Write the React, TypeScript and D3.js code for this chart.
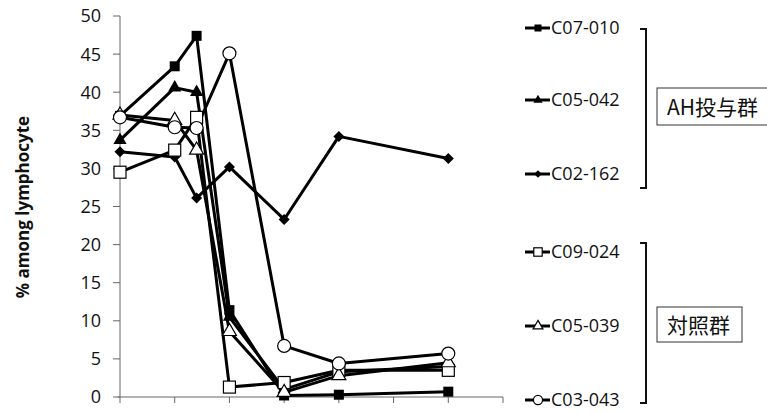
import React from "react";
import * as d3 from "d3";

const timePoints = [0, 1, 1.4, 2, 3, 4, 6];
const seriesNames = ["C07-010", "C05-042", "C02-162", "C09-024", "C05-039", "C03-043"];
const markerKinds = ["squareFilled", "triangleFilled", "diamondFilled", "squareOpen", "triangleOpen", "circleOpen"];
const valsC07_010 = [36.9, 43.4, 47.4, 11.4, 0.2, 0.3, 0.7];
const valsC05_042 = [33.7, 40.6, 40.0, 10.5, 1.0, 3.3, 4.0];
const valsC02_162 = [32.2, 31.5, 26.1, 30.2, 23.3, 34.2, 31.3];
const valsC09_024 = [29.5, 32.4, 36.7, 1.3, 1.9, 3.5, 3.5];
const valsC05_039 = [37.0, 36.3, 32.4, 8.6, 0.6, 2.8, 4.5];
const valsC03_043 = [36.7, 35.4, 35.3, 45.1, 6.7, 4.4, 5.7];
const allValues = [valsC07_010, valsC05_042, valsC02_162, valsC09_024, valsC05_039, valsC03_043];
const yTicks = [0, 5, 10, 15, 20, 25, 30, 35, 40, 45, 50];
const xTicks = [0, 1, 2, 3, 4, 5, 6, 7];
const groupLabels = ["AH投与群", "対照群"];
const yTitle = "% among lymphocyte";

const FONT = "'Open Sans', 'Noto Sans', sans-serif";
const CJK = "'Noto Sans CJK JP', sans-serif";

function Marker({ kind, x, y, s }: { kind: string; x: number; y: number; s: number }) {
  const sym = (type: any, size: number) => d3.symbol().type(type).size(size)()!;
  switch (kind) {
    case "squareFilled":
      return <rect x={x - s / 2} y={y - s / 2} width={s} height={s} fill="#000" />;
    case "triangleFilled":
      return <path d={sym(d3.symbolTriangle, s * s * 0.75)} transform={`translate(${x},${y})`} fill="#000" />;
    case "diamondFilled":
      return <path d={`M${x},${y - s * 0.55}L${x + s * 0.55},${y}L${x},${y + s * 0.55}L${x - s * 0.55},${y}Z`} fill="#000" />;
    case "squareOpen":
      return <rect x={x - s * 0.6} y={y - s * 0.6} width={s * 1.2} height={s * 1.2} fill="#fff" stroke="#000" strokeWidth={1.2} />;
    case "triangleOpen":
      return <path d={sym(d3.symbolTriangle, s * s * 0.85)} transform={`translate(${x},${y})`} fill="#fff" stroke="#000" strokeWidth={1.2} />;
    case "circleOpen":
      return <circle cx={x} cy={y} r={s * 0.65} fill="#fff" stroke="#000" strokeWidth={1.2} />;
    default:
      return null;
  }
}

export default function App() {
  const W = 767, H = 413;
  const x = d3.scaleLinear().domain([0, 7]).range([120, 503]);
  const y = d3.scaleLinear().domain([0, 50]).range([397, 16]);
  const line = d3
    .line<number>()
    .x((_, i) => x(timePoints[i]))
    .y((d) => y(d));

  const legendY = [28, 100, 174, 252, 326, 400];

  return (
    <svg width={W} height={H} style={{ position: "absolute", left: 0, top: 0, background: "#fff" }}>
      {/* y axis */}
      <line x1={120} x2={120} y1={y(50)} y2={y(0)} stroke="#666" strokeWidth={1} />
      {yTicks.map((t) => (
        <g key={t}>
          <line x1={113} x2={120} y1={y(t)} y2={y(t)} stroke="#666" strokeWidth={1} />
          <text x={101} y={y(t)} dy="0.36em" textAnchor="end" fontFamily={FONT} fontSize={18} fill="#111">
            {t}
          </text>
        </g>
      ))}
      {/* x axis */}
      <line x1={x(0) - 2} x2={x(7)} y1={y(0)} y2={y(0)} stroke="#666" strokeWidth={1} />
      {xTicks.map((t) => (
        <line key={t} x1={x(t)} x2={x(t)} y1={y(0)} y2={y(0) + 6} stroke="#666" strokeWidth={1} />
      ))}
      <text
        transform={`translate(23,207) rotate(-90)`}
        textAnchor="middle"
        dy="0.36em"
        fontFamily={FONT}
        fontWeight="bold"
        fontSize={17}
        fill="#111"
      >
        {yTitle}
      </text>
      {/* series lines */}
      {allValues.map((vals, si) => (
        <path key={si} d={line(vals)!} fill="none" stroke="#000" strokeWidth={3} strokeLinejoin="round" />
      ))}
      {allValues.map((vals, si) => (
        <g key={si}>
          {vals.map((v, i) => (
            <Marker key={i} kind={markerKinds[si]} x={x(timePoints[i])} y={y(v)} s={10} />
          ))}
        </g>
      ))}
      {/* legend */}
      {seriesNames.map((name, si) => (
        <g key={name}>
          <line x1={525} x2={550} y1={legendY[si]} y2={legendY[si]} stroke="#000" strokeWidth={3} />
          <Marker kind={markerKinds[si]} x={538} y={legendY[si]} s={7} />
          <text x={551} y={legendY[si]} dy="0.36em" fontFamily={FONT} fontSize={18} fill="#111">
            {name}
          </text>
        </g>
      ))}
      {/* brackets */}
      <path d="M640,29 H646 V188 H640" fill="none" stroke="#111" strokeWidth={2} />
      <path d="M640,243 H646 V403 H640" fill="none" stroke="#111" strokeWidth={2} />
      {/* group boxes */}
      <rect x={657} y={88} width={115} height={37} fill="#fff" stroke="#333" strokeWidth={1} />
      <text x={667} y={107} dy="0.36em" fontFamily={CJK} fontSize={21} fill="#111">
        {groupLabels[0]}
      </text>
      <rect x={657} y={307} width={85} height={35} fill="#fff" stroke="#333" strokeWidth={1} />
      <text x={667} y={325} dy="0.36em" fontFamily={CJK} fontSize={21} fill="#111">
        {groupLabels[1]}
      </text>
    </svg>
  );
}
